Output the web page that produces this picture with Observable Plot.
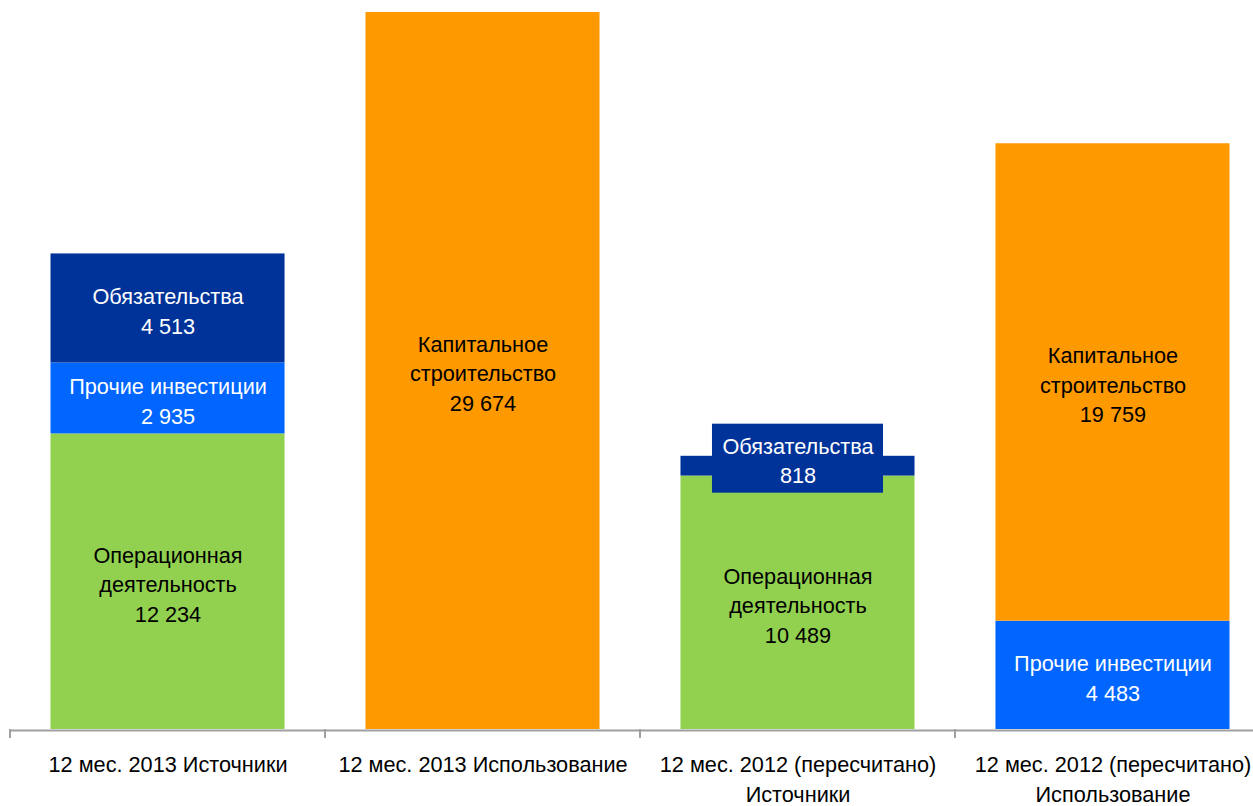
<!DOCTYPE html>
<html>
<head>
<meta charset="utf-8">
<script src="https://cdn.jsdelivr.net/npm/d3@7"></script>
<script src="https://cdn.jsdelivr.net/npm/@observablehq/plot@0.6"></script>
<style>
  html, body { margin: 0; padding: 0; background: #ffffff; }
  #chart svg { display: block; }
</style>
</head>
<body>
<div id="chart"></div>
<script>
// ---- data ----
const periods = [
  "12 мес. 2013 Источники",
  "12 мес. 2013 Использование",
  "12 мес. 2012 (пересчитано) Источники",
  "12 мес. 2012 (пересчитано) Использование"
];
const tickLabels = [
  "12 мес. 2013 Источники",
  "12 мес. 2013 Использование",
  "12 мес. 2012 (пересчитано)\nИсточники",
  "12 мес. 2012 (пересчитано)\nИспользование"
];
const segments = ["Операционная деятельность", "Прочие инвестиции", "Обязательства", "Капитальное строительство"];
const segmentLabels = ["Операционная\nдеятельность", "Прочие инвестиции", "Обязательства", "Капитальное\nстроительство"];
const segmentColors = ["#92D050", "#0066FF", "#003399", "#FF9900"];
const segmentTextColors = ["#000000", "#ffffff", "#ffffff", "#000000"];

const barPeriods = [periods[0], periods[0], periods[0], periods[1], periods[2], periods[2], periods[3], periods[3]];
const barSegments = [
  "Операционная деятельность", "Прочие инвестиции", "Обязательства",
  "Капитальное строительство",
  "Операционная деятельность", "Обязательства",
  "Прочие инвестиции", "Капитальное строительство"
];
const barValues = [12234, 2935, 4513, 29674, 10489, 818, 4483, 19759];

// ---- build table (stacked in input order) ----
const fmt = d3.formatLocale({thousands: " ", grouping: [3], decimal: ","}).format(",");
const running = new Map();
const rows = barValues.map((v, i) => {
  const si = segments.indexOf(barSegments[i]);
  const base = running.get(barPeriods[i]) || 0;
  running.set(barPeriods[i], base + v);
  return {
    period: barPeriods[i],
    segment: barSegments[i],
    value: v,
    y1: base,
    y2: base + v,
    mid: base + v / 2,
    label: segmentLabels[si] + "\n" + fmt(v),
    textColor: segmentTextColors[si],
    idx: i
  };
});
const yMax = d3.max(running.values());

// the small "Обязательства 818" segment gets a boxed label
const boxedIdx = 5;
const normalRows = rows.filter(d => d.idx !== boxedIdx);
const boxedRow = rows[boxedIdx];

const font = '"Liberation Sans", Arial, sans-serif';
const fs = 21.7;

// boundary ticks under the axis (between bands)
function boundaryTicks(index, scales, values, dimensions) {
  const x = scales.x;
  const half = (x.step() - x.bandwidth()) / 2;
  const y0 = scales.y(0);
  const g = d3.create("svg:g");
  periods.forEach(p => {
    const bx = x(p) - half;
    g.append("line")
      .attr("x1", bx).attr("x2", bx)
      .attr("y1", y0).attr("y2", y0 + 9)
      .attr("stroke", "#a0a0a0").attr("stroke-width", 2);
  });
  return g.node();
}

const chart = Plot.plot({
  width: 1253,
  height: 806,
  marginTop: 12,
  marginBottom: 77,
  marginLeft: 10,
  marginRight: 0,
  style: {fontFamily: font, fontSize: fs + "px", background: "#ffffff"},
  x: {type: "band", domain: periods, range: [10, 1270], paddingInner: 0.257, paddingOuter: 0.1286, align: 0.5, round: false, axis: null, label: null},
  y: {domain: [0, yMax], axis: null, label: null},
  color: {domain: segments, range: segmentColors},
  marks: [
    Plot.barY(rows, {x: "period", y1: "y1", y2: "y2", fill: "segment"}),
    Plot.ruleY([0], {stroke: "#a0a0a0", strokeWidth: 2, dy: 1}),
    boundaryTicks,
    Plot.axisX({
      label: null,
      tickSize: 0,
      tickPadding: 22,
      fontSize: fs,
      lineHeight: 1.36,
      fill: "#000000",
      tickFormat: d => tickLabels[periods.indexOf(d)]
    }),
    Plot.text(normalRows.filter(d => d.textColor === "#000000"), {
      x: "period", y: "mid", text: "label",
      fill: "#000000", fontSize: fs, lineHeight: 1.36, dy: 1
    }),
    Plot.text(normalRows.filter(d => d.textColor !== "#000000"), {
      x: "period", y: "mid", text: "label",
      fill: "#ffffff", fontSize: fs, lineHeight: 1.36, dy: 1
    }),
    Plot.barY([boxedRow], {
      x: "period", y1: "mid", y2: "mid",
      fill: segmentColors[segments.indexOf(boxedRow.segment)],
      insetLeft: 31.5, insetRight: 31.5, insetTop: -42, insetBottom: -27
    }),
    Plot.text([boxedRow], {
      x: "period", y: "mid", text: "label",
      fill: "#ffffff", fontSize: fs, lineHeight: 1.36, dy: -7
    })
  ]
});
document.getElementById("chart").append(chart);
</script>
</body>
</html>
